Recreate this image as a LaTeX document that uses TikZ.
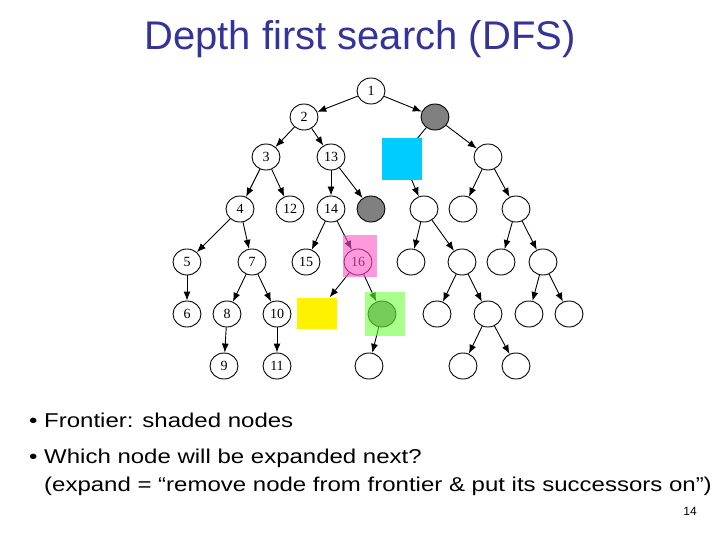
\documentclass[tikz,border=0pt]{standalone}
\usepackage{fontspec}
\setmainfont{Liberation Sans}
\newfontfamily\slidefont[FakeStretch=1.2]{Liberation Sans}
\newfontfamily\treefont{Liberation Serif}
\usetikzlibrary{arrows.meta,shapes.geometric}
\definecolor{titleblue}{RGB}{51,51,153}
\definecolor{frontgray}{RGB}{128,128,128}
\definecolor{boxblue}{RGB}{0,204,255}
\definecolor{boxpink}{RGB}{255,85,198}
\definecolor{boxgreen}{RGB}{110,255,63}

\begin{document}
\begin{tikzpicture}[x=1pt,y=-1pt,
    vert/.style={draw, ellipse, line width=0.9pt, minimum width=28pt, minimum height=26pt,
      inner sep=0pt, font=\treefont\fontsize{14}{14}\selectfont},
    shaded/.style={vert, fill=frontgray},
    link/.style={-{Latex[length=9pt,width=7pt]}, line width=0.9pt},
    cover/.style={inner sep=0pt, draw=none},
    bodytext/.style={anchor=base west, inner sep=0pt, font=\slidefont\fontsize{20}{24}\selectfont}]
    \useasboundingbox (0,0) rectangle (720,540);
    % Title
    \node[anchor=base, text=titleblue, font=\fontsize{40}{48}\selectfont] (title) at (360,50) {Depth first search (DFS)};
    % Draw the tree nodes, level by level
    \node[vert] (n1) at (371,91) {1};
    \node[vert] (n2) at (304,117) {2};
    \node[shaded] (g1) at (435,117) {};
    \node[vert] (n3) at (266,157) {3};
    \node[vert] (n13) at (331,157) {13};
    \coordinate (hb) at (402,157);
    \node[vert] (a) at (488,157) {};
    \node[vert] (n4) at (240,209) {4};
    \node[vert] (n12) at (290,209) {12};
    \node[vert] (n14) at (331,209) {14};
    \node[shaded] (g2) at (371,209) {};
    \node[vert] (b) at (424,209) {};
    \node[vert] (c) at (463,209) {};
    \node[vert] (d) at (516,209) {};
    \node[vert] (n5) at (187,262) {5};
    \node[vert] (n7) at (252,262) {7};
    \node[vert] (n15) at (306,262) {15};
    \node[vert] (n16) at (358,262) {16};
    \node[vert] (e) at (411,262) {};
    \node[vert] (f) at (462,262) {};
    \node[vert] (g) at (501,262) {};
    \node[vert] (h) at (543,262) {};
    \node[vert] (n6) at (187,314) {6};
    \node[vert] (n8) at (227,314) {8};
    \node[vert] (n10) at (277,314) {10};
    \node[cover, fill=yellow, minimum width=40pt, minimum height=31pt] (yel) at (317,313) {};
    \node[shaded] (gr) at (382,314) {};
    \node[vert] (i) at (437,314) {};
    \node[vert] (j) at (488,314) {};
    \node[vert] (k) at (529,314) {};
    \node[vert] (l) at (569,314) {};
    \node[vert] (n9) at (224,366) {9};
    \node[vert] (n11) at (277,366) {11};
    \node[vert] (m) at (369,366) {};
    \node[vert] (o) at (463,366) {};
    \node[vert] (p) at (516,366) {};
    % Draw the edges
    \draw[link] (n1) -- (n2);
    \draw[link] (n1) -- (g1);
    \draw[link] (n2) -- (n3);
    \draw[link] (n2) -- (n13);
    \draw[link] (g1) -- (hb);
    \draw[link] (g1) -- (a);
    \draw[link] (n3) -- (n4);
    \draw[link] (n3) -- (n12);
    \draw[link] (n13) -- (n14);
    \draw[link] (n13) -- (g2);
    \draw[link] (hb) -- (b);
    \draw[link] (a) -- (c);
    \draw[link] (a) -- (d);
    \draw[link] (n4) -- (n5);
    \draw[link] (n4) -- (n7);
    \draw[link] (n14) -- (n15);
    \draw[link] (n14) -- (n16);
    \draw[link] (b) -- (e);
    \draw[link] (b) -- (f);
    \draw[link] (d) -- (g);
    \draw[link] (d) -- (h);
    \draw[link] (n5) -- (n6);
    \draw[link] (n7) -- (n8);
    \draw[link] (n7) -- (n10);
    \draw[link] (n16) -- (yel);
    \draw[link] (n16) -- (gr);
    \draw[link] (f) -- (i);
    \draw[link] (f) -- (j);
    \draw[link] (h) -- (k);
    \draw[link] (h) -- (l);
    \draw[link] (n8) -- (n9);
    \draw[link] (n10) -- (n11);
    \draw[link] (gr) -- (m);
    \draw[link] (j) -- (o);
    \draw[link] (j) -- (p);
    % Coloured boxes over the frontier
    \node[cover, fill=boxblue, minimum width=40pt, minimum height=42pt] (blue) at (402,159) {};
    \node[cover, fill=boxpink, fill opacity=0.6, minimum width=34pt, minimum height=42pt] (pink) at (360,256) {};
    \node[cover, fill=boxgreen, fill opacity=0.6, minimum width=40pt, minimum height=44pt] (green) at (385,314) {};
    % Bullet text
    \node[bodytext] (dot1) at (29,427) {•};
    \node[bodytext] (line1) at (44,427) {Frontier: shaded nodes};
    \node[bodytext] (dot2) at (29,463) {•};
    \node[bodytext] (line2) at (44,463) {Which node will be expanded next?};
    \node[bodytext] (line3) at (44,491) {(expand = “remove node from frontier \& put its successors on”)};
    \node[anchor=base east, inner sep=0pt, font=\fontsize{12}{14}\selectfont] (page) at (697,515) {14};
\end{tikzpicture}
\end{document}
